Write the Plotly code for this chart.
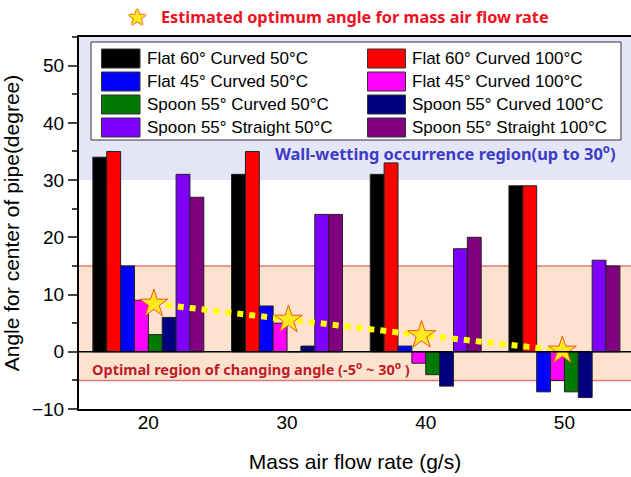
import plotly.graph_objects as go

# ---------------- data ----------------
flow_rates = [20, 30, 40, 50]
series_names = [
    "Flat 60° Curved 50°C", "Flat 60° Curved 100°C",
    "Flat 45° Curved 50°C", "Flat 45° Curved 100°C",
    "Spoon 55° Curved 50°C", "Spoon 55° Curved 100°C",
    "Spoon 55° Straight 50°C", "Spoon 55° Straight 100°C",
]
flat60_50 = [34, 31, 31, 29]
flat60_100 = [35, 35, 33, 29]
flat45_50 = [15, 8, 1, -7]
flat45_100 = [9, 5, -2, -5]
spoon_curved_50 = [3, 0, -4, -7]
spoon_curved_100 = [6, 1, -6, -8]
spoon_straight_50 = [31, 24, 18, 16]
spoon_straight_100 = [27, 24, 20, 15]
series_values = [flat60_50, flat60_100, flat45_50, flat45_100,
                 spoon_curved_50, spoon_curved_100, spoon_straight_50, spoon_straight_100]
series_colors = ["#000000", "#ff0000", "#0000ff", "#ff00ff",
                 "#007a00", "#000080", "#8000ff", "#800080"]

optimum_x = [20.4, 30.1, 39.7, 49.85]
optimum_y = [8.4, 5.6, 2.9, 0.2]

wall_wetting_min = 30
optimal_band = [-5, 15]
y_ticks = [-10, 0, 10, 20, 30, 40, 50]
x_ticks = [20, 30, 40, 50]

# ---------------- figure ----------------
W, H = 631, 477
L, R, T, B = 79, 0, 37, 68
PW, PH = W - L - R, H - T - B


def px(p):
    return (p - L) / PW


def py(p):
    return (H - B - p) / PH


fig = go.Figure()
for name, vals, col in zip(series_names, series_values, series_colors):
    fig.add_trace(go.Bar(x=flow_rates, y=vals, name=name, marker_color=col,
                         marker_line=dict(color="#222222", width=1), showlegend=False))

fig.add_trace(go.Scatter(x=optimum_x, y=optimum_y, mode="lines",
                         line=dict(color="#ffff00", width=6, dash="dot"),
                         showlegend=False, hoverinfo="skip"))
fig.add_trace(go.Scatter(x=optimum_x, y=optimum_y, mode="markers",
                         marker=dict(symbol="star", size=21, color="#ffe820",
                                     line=dict(color="#ee5520", width=1)),
                         showlegend=False))

shapes = []
# wall wetting band
shapes.append(dict(type="rect", xref="paper", yref="y", x0=0, x1=1,
                   y0=wall_wetting_min, y1=55, fillcolor="#e4e6f8",
                   line=dict(width=0), layer="below"))
# optimal band
shapes.append(dict(type="rect", xref="paper", yref="y", x0=0, x1=1,
                   y0=optimal_band[0], y1=optimal_band[1], fillcolor="#fde3cf",
                   line=dict(width=0), layer="below"))
for yv in optimal_band:
    shapes.append(dict(type="line", xref="paper", yref="y", x0=0, x1=1, y0=yv, y1=yv,
                       line=dict(color="#e07a7a", width=1.5), layer="below"))
shapes.append(dict(type="line", xref="paper", yref="y", x0=0, x1=1, y0=0, y1=0,
                   line=dict(color="#000000", width=1.5), layer="above"))

# custom legend
shapes.append(dict(type="rect", xref="paper", yref="paper",
                   x0=px(91), x1=px(621), y0=py(42), y1=py(140),
                   fillcolor="white", line=dict(color="#333333", width=1), layer="above"))
annotations = []
row_y = [58.5, 81.5, 104.5, 127.5]
col_sw = [(101.5, 140), (367.5, 405.5)]
col_tx = [145, 410.5]
for i, (name, col) in enumerate(zip(series_names, series_colors)):
    r, c = i // 2, i % 2
    yc = row_y[r]
    shapes.append(dict(type="rect", xref="paper", yref="paper",
                       x0=px(col_sw[c][0]), x1=px(col_sw[c][1]),
                       y0=py(yc + 9.5), y1=py(yc - 9.5),
                       fillcolor=col, line=dict(color="#333333", width=1), layer="above"))
    annotations.append(dict(xref="paper", yref="paper", x=px(col_tx[c]), y=py(yc),
                            text=name, showarrow=False, xanchor="left", yanchor="middle",
                            font=dict(family="Liberation Sans, Arial", size=17, color="black")))

annotations.append(dict(xref="paper", yref="paper", x=px(618), y=py(153),
                        text="Wall-wetting occurrence region(up to 30<sup>o</sup>)",
                        showarrow=False, xanchor="right", yanchor="middle",
                        font=dict(family="Noto Sans", size=16.4, color="#3c3cc4", weight="bold")))
annotations.append(dict(xref="paper", yref="paper", x=px(90), y=py(368),
                        text="Optimal region of changing angle (-5<sup>o</sup> ~ 30<sup>o</sup> )",
                        showarrow=False, xanchor="left", yanchor="middle",
                        font=dict(family="Noto Sans", size=14.5, color="#c01c28", weight="bold")))
annotations.append(dict(xref="paper", yref="paper", x=px(159), y=py(17),
                        text="Estimated optimum angle for mass air flow rate",
                        showarrow=False, xanchor="left", yanchor="middle",
                        font=dict(family="Noto Sans", size=16.3, color="#ee1122", weight="bold")))
annotations.append(dict(xref="paper", yref="paper", x=px(137), y=py(17),
                        text="★", showarrow=False, xanchor="center", yanchor="middle",
                        font=dict(family="DejaVu Sans", size=23, color="#ffe820",
                                  shadow="1px 0 0 #ee6622, -1px 0 0 #ee6622, 0 1px 0 #ee6622, 0 -1px 0 #ee6622")))

fig.update_layout(
    width=W, height=H,
    margin=dict(l=L, r=R, t=T, b=B, pad=0),
    paper_bgcolor="white", plot_bgcolor="white",
    barmode="group", bargap=0.2, bargroupgap=0,
    shapes=shapes, annotations=annotations,
    font=dict(family="Liberation Sans, Arial", color="black"),
    xaxis=dict(range=[15, 54.8], tickvals=x_ticks, ticks="", showgrid=False, zeroline=False,
               showline=True, linecolor="black", linewidth=2, mirror=True,
               tickfont=dict(size=19), ticklabelstandoff=-5,
               title=dict(text="Mass air flow rate (g/s)", font=dict(size=21), standoff=23)),
    yaxis=dict(range=[-10, 55], tickvals=y_ticks, ticks="outside", ticklen=9, tickwidth=1.5,
               minor=dict(dtick=5, ticks="outside", ticklen=5, tickwidth=1.5),
               showgrid=False, zeroline=False, showline=True, linecolor="black", linewidth=2,
               tickfont=dict(size=19),
               title=dict(text="Angle for center of pipe(degree)", font=dict(size=21), standoff=8)),
)

fig.write_html("out.html")
